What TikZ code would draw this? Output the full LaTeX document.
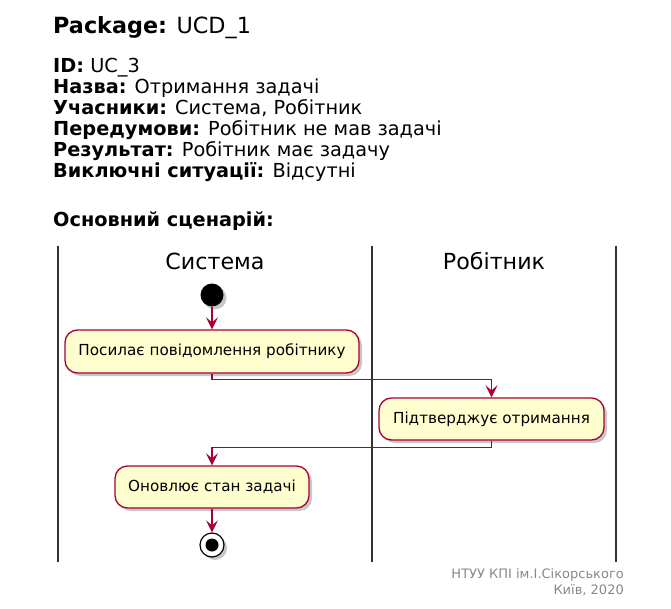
\documentclass[tikz,border=0pt]{standalone}
\usepackage{fontspec}
\setmainfont{DejaVu Sans}
\usetikzlibrary{arrows.meta,shadows}
\definecolor{umlred}{HTML}{A80036}
\definecolor{umlfill}{HTML}{FEFECE}
\definecolor{lanegray}{HTML}{333333}
\definecolor{footgray}{HTML}{888888}
\tikzset{
  hdr/.style={anchor=base west, inner sep=0pt, font=\fontsize{19.3}{22}\selectfont},
  ttl/.style={anchor=base west, inner sep=0pt, font=\fontsize{22.3}{26}\selectfont},
  lanettl/.style={anchor=base, inner sep=0pt, font=\fontsize{22.2}{26}\selectfont},
  lane/.style={draw=lanegray, line width=1.8pt},
  actbox/.style={draw=umlred, fill=umlfill, line width=1.3pt, rounded corners=12.5pt,
    inner sep=0pt, font=\fontsize{15.2}{18}\selectfont,
    drop shadow={shadow xshift=3pt, shadow yshift=-3pt, opacity=0.22, fill=black}},
  flow/.style={draw=umlred, line width=1.3pt, -{Stealth[length=12pt, width=12pt, inset=5pt]}},
  foot/.style={anchor=base east, inner sep=0pt, text=footgray, font=\fontsize{13}{15}\selectfont},
}
\begin{document}
\begin{tikzpicture}[x=1pt, y=-1pt]
\useasboundingbox (0,0) rectangle (671,609);
% header
\node[ttl] (t0) at (53,34) {\textbf{Package:} UCD\_1};
\node[hdr] (h1) at (53,73) {\textbf{ID:} UC\_3};
\node[hdr] (h2) at (53,94) {\textbf{Назва:} Отримання задачі};
\node[hdr] (h3) at (53,115) {\textbf{Учасники:} Система, Робітник};
\node[hdr] (h4) at (53,136) {\textbf{Передумови:} Робітник не мав задачі};
\node[hdr] (h5) at (53,157) {\textbf{Результат:} Робітник має задачу};
\node[hdr] (h6) at (53,178) {\textbf{Виключні ситуації:} Відсутні};
\node[hdr] (h7) at (53,227) {\textbf{Основний сценарій:}};
% lanes
\coordinate (l1t) at (58,246); \coordinate (l1b) at (58,562);
\coordinate (l2t) at (372,246); \coordinate (l2b) at (372,562);
\coordinate (l3t) at (616,246); \coordinate (l3b) at (616,562);
\draw[lane] (l1t) -- (l1b);
\draw[lane] (l2t) -- (l2b);
\draw[lane] (l3t) -- (l3b);
\node[lanettl] (lt1) at (215,270) {Система};
\node[lanettl] (lt2) at (494,270) {Робітник};
% start / end
\node[circle, fill=black, minimum size=23pt, inner sep=0pt,
  drop shadow={shadow xshift=3pt, shadow yshift=-3pt, opacity=0.22, fill=black}] (start) at (212,295) {};
\node[circle, draw=black, fill=white, line width=1.2pt, minimum size=24pt, inner sep=0pt,
  drop shadow={shadow xshift=3pt, shadow yshift=-3pt, opacity=0.22, fill=black}] (stop) at (212,545) {};
\node[circle, fill=black, minimum size=13pt, inner sep=0pt] (stopin) at (stop) {};
% activities
\node[actbox, minimum width=294pt, minimum height=43pt] (a1) at (212,351.5) {Посилає повідомлення робітнику};
\node[actbox, minimum width=225pt, minimum height=42pt] (a2) at (491.5,419) {Підтверджує отримання};
\node[actbox, minimum width=194pt, minimum height=42pt] (a3) at (212,487) {Оновлює стан задачі};
% flows
\draw[flow] (start.south) -- (a1.north);
\draw[flow] (a1.south) -- ++(0,6) -| (a2.north);
\draw[flow] (a2.south) -- ++(0,7) -| (a3.north);
\draw[flow] (a3.south) -- (stop.north);
% footer
\node[foot] (f1) at (624,578) {НТУУ КПІ ім.І.Сікорського};
\node[foot] (f2) at (624,594) {Київ, 2020};
\end{tikzpicture}
\end{document}
